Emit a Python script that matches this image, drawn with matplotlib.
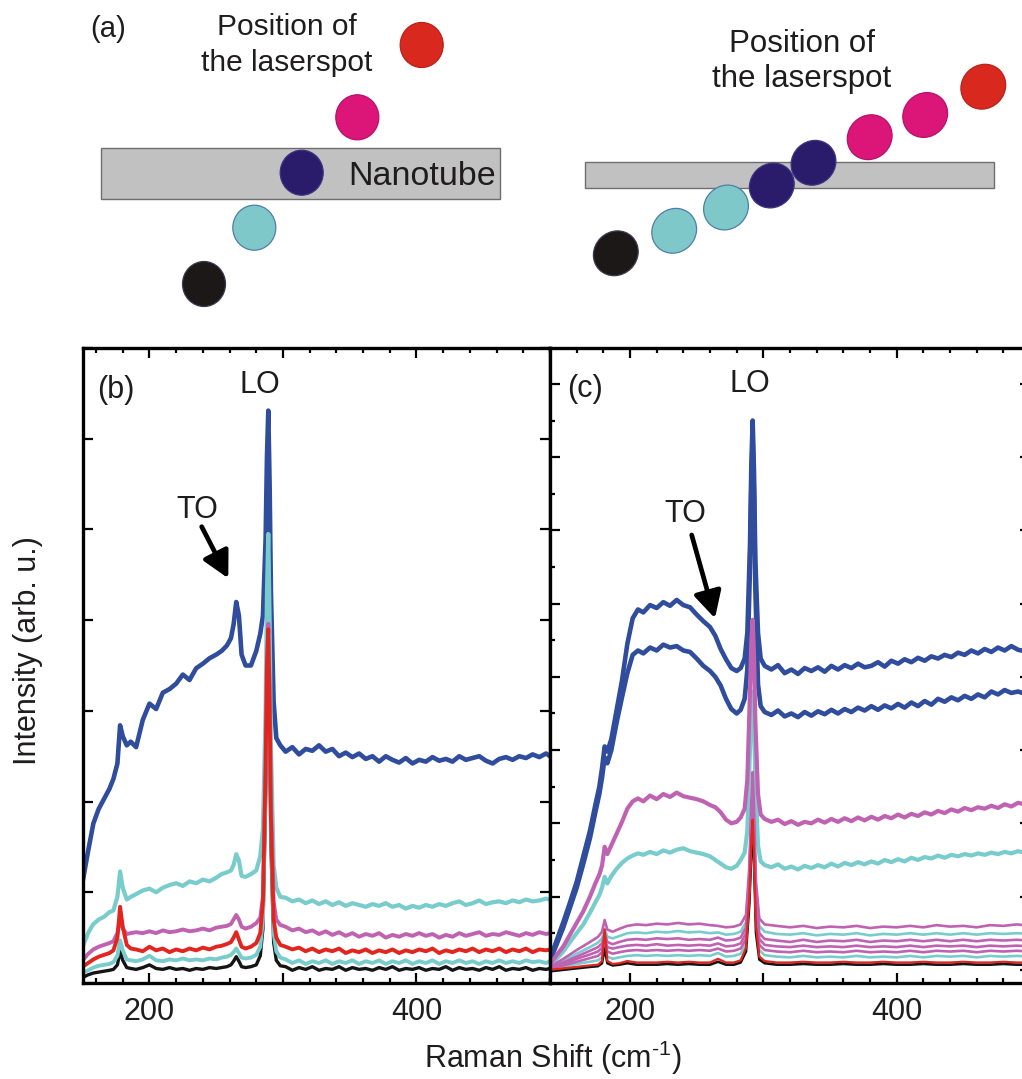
import matplotlib
matplotlib.use("Agg")
import matplotlib.pyplot as plt
from matplotlib.patches import Ellipse, Rectangle
from matplotlib.ticker import FixedLocator, MultipleLocator, FuncFormatter, NullFormatter

plt.rcParams['font.family'] = ['Liberation Sans', 'DejaVu Sans']
plt.rcParams['mathtext.fontset'] = 'custom'
plt.rcParams['mathtext.rm'] = 'Liberation Sans'
plt.rcParams['mathtext.it'] = 'Liberation Sans:italic'
plt.rcParams['mathtext.bf'] = 'Liberation Sans:bold'

# ---------------------------------------------------------------- panel (b)
# Raman shift grid (cm^-1) for the spectra of panel (b)
b_shift = [150, 154, 158, 162, 166, 170, 173, 176, 178, 180,
           183, 186, 190, 195, 200, 205, 210, 215, 220, 225,
           230, 235, 240, 245, 250, 254, 258, 261, 263, 265,
           267, 269, 272, 276, 280, 283, 285,
           287, 288, 289, 290, 291, 293, 295, 298,
           302, 307, 312, 317, 322, 327, 332, 337, 342, 347,
           352, 357, 362, 367, 372, 377, 382, 387, 392, 397,
           402, 407, 412, 417, 422, 427, 432, 437, 442, 447,
           452, 457, 462, 467, 472, 477, 482, 487, 492, 497,
           500]

b_blue = [1.12, 1.45, 1.76, 1.92, 2.03, 2.14, 2.25, 2.42, 2.84, 2.72,
          2.62, 2.66, 2.6, 2.9, 3.08, 3.02, 3.2, 3.24, 3.3, 3.4,
          3.34, 3.47, 3.52, 3.58, 3.62, 3.66, 3.72, 3.8, 3.95, 4.2,
          4.05, 3.62, 3.5, 3.5, 3.66, 3.85, 4.05,
          4.9, 5.8, 6.31, 5.5, 4.3, 3.1, 2.7, 2.62,
          2.55, 2.6, 2.52, 2.58, 2.56, 2.62, 2.55, 2.58, 2.5, 2.54,
          2.49, 2.53, 2.47, 2.5, 2.44, 2.5, 2.46, 2.43, 2.48, 2.42,
          2.46, 2.44, 2.49, 2.45, 2.47, 2.44, 2.5, 2.46, 2.48, 2.5,
          2.45, 2.42, 2.47, 2.49, 2.46, 2.5, 2.48, 2.52, 2.49, 2.53,
          2.5]

b_cyan_hi = [0.4, 0.55, 0.65, 0.7, 0.73, 0.78, 0.8, 0.95, 1.23, 1.05,
             0.92, 0.95, 0.98, 1.02, 1.04, 1.0, 1.05, 1.08, 1.1, 1.07,
             1.12, 1.1, 1.14, 1.12, 1.16, 1.2, 1.22, 1.24, 1.3, 1.42,
             1.35, 1.18, 1.17, 1.2, 1.24, 1.4, 1.7,
             3.0, 4.3, 4.95, 4.0, 2.6, 1.3, 1.05, 0.95,
             0.94, 0.9, 0.92, 0.88, 0.91, 0.87, 0.9, 0.86, 0.89, 0.85,
             0.88, 0.86, 0.84, 0.87, 0.85, 0.88, 0.84, 0.86, 0.82, 0.85,
             0.83, 0.86, 0.84, 0.87, 0.85, 0.88, 0.9, 0.86, 0.88, 0.91,
             0.87, 0.89, 0.9, 0.88, 0.91, 0.89, 0.92, 0.9, 0.91, 0.93,
             0.92]

b_magenta = [0.25, 0.32, 0.37, 0.4, 0.42, 0.44, 0.46, 0.55, 0.7, 0.6,
             0.54, 0.55, 0.56, 0.55, 0.57, 0.55, 0.58, 0.56, 0.57, 0.59,
             0.57, 0.58, 0.6, 0.58, 0.61, 0.62, 0.63, 0.65, 0.7, 0.75,
             0.7, 0.62, 0.6, 0.62, 0.66, 0.72, 0.95,
             2.3, 3.5, 3.96, 3.2, 2.0, 0.9, 0.7, 0.64,
             0.62, 0.58, 0.6, 0.56, 0.58, 0.54, 0.57, 0.53, 0.56, 0.52,
             0.55, 0.51, 0.54, 0.52, 0.55, 0.5, 0.53, 0.51, 0.54, 0.52,
             0.55, 0.52, 0.54, 0.5, 0.53, 0.51, 0.55, 0.52, 0.54, 0.56,
             0.52, 0.54, 0.53, 0.56, 0.54, 0.52, 0.55, 0.53, 0.56, 0.54,
             0.55]

b_red = [0.18, 0.22, 0.26, 0.29, 0.31, 0.33, 0.36, 0.5, 0.84, 0.62,
         0.42, 0.38, 0.37, 0.35, 0.4, 0.36, 0.38, 0.34, 0.37, 0.35,
         0.38, 0.36, 0.39, 0.37, 0.4, 0.41, 0.43, 0.45, 0.5, 0.56,
         0.48, 0.4, 0.38, 0.4, 0.44, 0.55, 0.9,
         2.4, 3.5, 3.9, 3.1, 1.8, 0.7, 0.5, 0.42,
         0.4, 0.37, 0.39, 0.35, 0.38, 0.34, 0.37, 0.35, 0.38, 0.33,
         0.36, 0.34, 0.37, 0.33, 0.36, 0.34, 0.37, 0.33, 0.36, 0.34,
         0.37, 0.35, 0.38, 0.33, 0.36, 0.34, 0.37, 0.35, 0.38, 0.34,
         0.37, 0.35, 0.38, 0.34, 0.37, 0.35, 0.38, 0.34, 0.37, 0.36,
         0.37]

b_cyan_lo = [0.11, 0.14, 0.17, 0.19, 0.2, 0.21, 0.23, 0.3, 0.47, 0.36,
             0.26, 0.25, 0.24, 0.26, 0.3, 0.25, 0.24, 0.26, 0.25, 0.27,
             0.25, 0.26, 0.25, 0.27, 0.26, 0.28, 0.29, 0.31, 0.34, 0.38,
             0.33, 0.28, 0.27, 0.28, 0.31, 0.4, 0.7,
             2.2, 3.4, 3.85, 3.0, 1.7, 0.55, 0.35, 0.28,
             0.26, 0.22, 0.25, 0.21, 0.24, 0.22, 0.25, 0.21, 0.24, 0.22,
             0.25, 0.21, 0.24, 0.22, 0.25, 0.21, 0.24, 0.22, 0.25, 0.21,
             0.24, 0.22, 0.25, 0.21, 0.24, 0.22, 0.25, 0.22, 0.24, 0.21,
             0.24, 0.22, 0.25, 0.22, 0.24, 0.22, 0.25, 0.23, 0.24, 0.22,
             0.24]

b_black = [0.06, 0.09, 0.11, 0.12, 0.13, 0.14, 0.15, 0.2, 0.35, 0.25,
           0.17, 0.16, 0.15, 0.17, 0.2, 0.16, 0.15, 0.17, 0.15, 0.16,
           0.14, 0.16, 0.15, 0.17, 0.16, 0.17, 0.18, 0.2, 0.24, 0.29,
           0.24, 0.18, 0.17, 0.18, 0.2, 0.3, 0.6,
           2.0, 3.2, 3.6, 2.8, 1.5, 0.45, 0.25, 0.19,
           0.18, 0.14, 0.17, 0.15, 0.18, 0.14, 0.16, 0.15, 0.18, 0.14,
           0.17, 0.15, 0.16, 0.14, 0.17, 0.15, 0.18, 0.14, 0.16, 0.15,
           0.17, 0.14, 0.16, 0.15, 0.18, 0.14, 0.17, 0.15, 0.16, 0.14,
           0.17, 0.15, 0.18, 0.14, 0.16, 0.15, 0.17, 0.14, 0.16, 0.15,
           0.16]

# ---------------------------------------------------------------- panel (c)
c_shift = [140, 145, 150, 155, 160, 165, 170, 174, 177, 179,
           181, 183, 186, 190, 194, 198, 202, 206, 210, 215,
           220, 225, 230, 235, 240, 245, 250, 255, 260, 264,
           268, 272, 276, 280, 283, 286, 288,
           290, 291, 292, 293, 294, 296, 298,
           301, 306, 311, 316, 321, 326, 331, 336, 341, 346,
           351, 356, 361, 366, 371, 376, 381, 386, 391, 396,
           401, 406, 411, 416, 421, 426, 431, 436, 441, 446,
           451, 456, 461, 466, 471, 476, 481, 486, 491, 496,
           500]

c_blue_1 = [0.15, 0.4, 0.65, 0.92, 1.2, 1.55, 1.9, 2.25, 2.5, 2.75,
            3.05, 2.98, 3.15, 3.55, 3.95, 4.45, 4.8, 4.92, 4.88, 4.98,
            4.94, 5.02, 4.97, 5.05, 4.98, 4.95, 4.85, 4.76, 4.68, 4.56,
            4.38, 4.24, 4.12, 4.08, 4.12, 4.25, 4.6,
            5.8, 6.9, 7.5, 6.8, 5.6, 4.6, 4.25,
            4.15, 4.1, 4.16, 4.05, 4.1, 4.04, 4.12, 4.08, 4.13, 4.07,
            4.15, 4.1, 4.16, 4.12, 4.18, 4.13, 4.15, 4.2, 4.14, 4.22,
            4.18, 4.24, 4.2, 4.26, 4.22, 4.28, 4.25, 4.3, 4.27, 4.33,
            4.3, 4.36, 4.32, 4.38, 4.34, 4.4, 4.36, 4.42, 4.37, 4.35,
            4.38]

c_blue_2 = [0.12, 0.35, 0.58, 0.85, 1.12, 1.45, 1.8, 2.15, 2.4, 2.62,
            2.9, 2.82, 3.0, 3.38, 3.72, 4.05, 4.3, 4.36, 4.32, 4.4,
            4.36, 4.44, 4.4, 4.42, 4.36, 4.34, 4.25, 4.15, 4.08, 4.0,
            3.88, 3.7, 3.56, 3.5, 3.55, 3.7, 4.1,
            5.5, 6.6, 7.25, 6.5, 5.2, 3.9, 3.6,
            3.52, 3.48, 3.54, 3.46, 3.5, 3.45, 3.52, 3.47, 3.53, 3.49,
            3.55, 3.5, 3.56, 3.52, 3.58, 3.54, 3.6, 3.55, 3.61, 3.57,
            3.63, 3.58, 3.65, 3.6, 3.67, 3.62, 3.7, 3.66, 3.72, 3.68,
            3.74, 3.7, 3.76, 3.72, 3.8, 3.76, 3.82, 3.78, 3.8, 3.77,
            3.79]

c_magenta_1 = [0.08, 0.2, 0.32, 0.48, 0.64, 0.8, 1.0, 1.18, 1.3, 1.42,
               1.68, 1.58, 1.7, 1.86, 2.02, 2.2, 2.3, 2.34, 2.3, 2.38,
               2.33, 2.4, 2.36, 2.42, 2.37, 2.35, 2.33, 2.3, 2.25, 2.22,
               2.15, 2.05, 2.0, 2.02, 2.08, 2.2, 2.6,
               3.8, 4.5, 4.78, 4.3, 3.4, 2.4, 2.12,
               2.06, 2.02, 2.05, 1.99, 2.03, 1.98, 2.02, 2.0, 2.05, 2.01,
               2.06, 2.02, 2.07, 2.03, 2.08, 2.04, 2.09, 2.05, 2.1, 2.07,
               2.12, 2.08, 2.13, 2.1, 2.15, 2.12, 2.17, 2.14, 2.19, 2.16,
               2.21, 2.18, 2.22, 2.2, 2.24, 2.21, 2.26, 2.23, 2.28, 2.26,
               2.27]

c_cyan_1 = [0.06, 0.15, 0.25, 0.38, 0.5, 0.62, 0.78, 0.92, 1.02, 1.12,
            1.27, 1.18, 1.28, 1.38, 1.46, 1.52, 1.56, 1.59, 1.57, 1.61,
            1.58, 1.63, 1.6, 1.64, 1.66, 1.62, 1.6, 1.58, 1.55, 1.5,
            1.45, 1.4, 1.38, 1.42, 1.5, 1.6, 1.9,
            3.0, 3.6, 3.8, 3.4, 2.6, 1.7, 1.48,
            1.43, 1.4, 1.44, 1.38, 1.41, 1.37, 1.42, 1.39, 1.43, 1.4,
            1.45, 1.41, 1.46, 1.43, 1.47, 1.44, 1.48, 1.45, 1.5, 1.47,
            1.51, 1.48, 1.53, 1.5, 1.54, 1.52, 1.56, 1.53, 1.57, 1.55,
            1.58, 1.56, 1.59, 1.57, 1.6, 1.58, 1.61, 1.59, 1.62, 1.6,
            1.61]

# weaker spectra of panel (c) on a coarser shift grid
c_shift_weak = [140, 150, 160, 170, 176, 179, 181, 183, 187, 192,
                198, 205, 212, 220, 228, 236, 244, 252, 260, 266,
                272, 278, 283, 287, 289.5, 291, 292, 293, 294.5, 297,
                301, 310, 320, 330, 340, 350, 360, 370, 380, 390,
                400, 410, 420, 430, 440, 450, 460, 470, 480, 490,
                500]

c_magenta_2 = [0.04, 0.15, 0.27, 0.38, 0.45, 0.52, 0.68, 0.55, 0.52, 0.56,
               0.6, 0.62, 0.61, 0.63, 0.62, 0.64, 0.62, 0.63, 0.61, 0.6,
               0.58, 0.59, 0.62, 0.75, 1.4, 2.3, 2.7, 2.2, 1.2, 0.7,
               0.62, 0.6, 0.58, 0.6, 0.57, 0.59, 0.58, 0.6, 0.57, 0.59,
               0.58, 0.6, 0.58, 0.61, 0.59, 0.6, 0.58, 0.61, 0.6, 0.62,
               0.6]
c_cyan_2 = [0.03, 0.12, 0.22, 0.31, 0.37, 0.43, 0.56, 0.45, 0.43, 0.46,
            0.5, 0.51, 0.5, 0.52, 0.51, 0.53, 0.51, 0.52, 0.5, 0.51,
            0.48, 0.49, 0.52, 0.65, 1.3, 2.2, 2.55, 2.1, 1.1, 0.6,
            0.52, 0.49, 0.48, 0.5, 0.47, 0.49, 0.48, 0.5, 0.47, 0.49,
            0.48, 0.5, 0.48, 0.5, 0.48, 0.5, 0.48, 0.5, 0.49, 0.5,
            0.49]
c_magenta_3 = [0.03, 0.1, 0.18, 0.26, 0.31, 0.36, 0.5, 0.38, 0.35, 0.38,
               0.41, 0.42, 0.41, 0.43, 0.42, 0.43, 0.41, 0.42, 0.41, 0.44,
               0.4, 0.41, 0.44, 0.58, 1.25, 2.1, 2.45, 2.0, 1.0, 0.5,
               0.42, 0.4, 0.38, 0.41, 0.38, 0.4, 0.39, 0.41, 0.38, 0.4,
               0.39, 0.41, 0.39, 0.41, 0.39, 0.41, 0.39, 0.41, 0.4, 0.41,
               0.4]
c_magenta_4 = [0.02, 0.08, 0.15, 0.21, 0.25, 0.3, 0.44, 0.31, 0.29, 0.31,
               0.33, 0.34, 0.33, 0.35, 0.33, 0.34, 0.33, 0.34, 0.33, 0.36,
               0.32, 0.33, 0.36, 0.5, 1.2, 2.0, 2.35, 1.9, 0.9, 0.42,
               0.34, 0.32, 0.31, 0.33, 0.31, 0.32, 0.31, 0.33, 0.31, 0.32,
               0.31, 0.33, 0.31, 0.33, 0.32, 0.33, 0.31, 0.33, 0.32, 0.33,
               0.32]
c_magenta_5 = [0.02, 0.06, 0.11, 0.16, 0.19, 0.24, 0.4, 0.25, 0.22, 0.24,
               0.26, 0.27, 0.26, 0.27, 0.26, 0.27, 0.26, 0.27, 0.26, 0.29,
               0.25, 0.26, 0.29, 0.42, 1.1, 1.9, 2.25, 1.8, 0.8, 0.34,
               0.27, 0.25, 0.24, 0.26, 0.24, 0.25, 0.24, 0.26, 0.24, 0.25,
               0.24, 0.26, 0.24, 0.26, 0.25, 0.26, 0.24, 0.26, 0.25, 0.26,
               0.25]
c_cyan_3 = [0.01, 0.04, 0.08, 0.11, 0.13, 0.17, 0.34, 0.18, 0.15, 0.17,
            0.19, 0.2, 0.19, 0.2, 0.19, 0.2, 0.19, 0.2, 0.19, 0.23,
            0.18, 0.19, 0.22, 0.35, 1.0, 1.8, 2.15, 1.7, 0.7, 0.27,
            0.2, 0.18, 0.17, 0.19, 0.17, 0.18, 0.17, 0.19, 0.17, 0.18,
            0.17, 0.19, 0.17, 0.19, 0.18, 0.19, 0.17, 0.19, 0.18, 0.19,
            0.18]
c_red = [0.0, 0.02, 0.04, 0.06, 0.07, 0.12, 0.55, 0.12, 0.08, 0.09,
         0.12, 0.1, 0.1, 0.1, 0.11, 0.1, 0.11, 0.1, 0.1, 0.15,
         0.1, 0.1, 0.13, 0.3, 1.0, 1.8, 2.05, 1.6, 0.6, 0.18,
         0.12, 0.1, 0.1, 0.11, 0.1, 0.1, 0.11, 0.1, 0.1, 0.11,
         0.1, 0.1, 0.11, 0.1, 0.1, 0.11, 0.1, 0.1, 0.11, 0.1,
         0.1]
c_black = [-0.02, 0.0, 0.02, 0.04, 0.05, 0.09, 0.3, 0.09, 0.06, 0.07,
           0.09, 0.07, 0.07, 0.07, 0.08, 0.07, 0.08, 0.07, 0.07, 0.11,
           0.07, 0.07, 0.1, 0.25, 0.9, 1.6, 1.9, 1.5, 0.5, 0.14,
           0.09, 0.07, 0.07, 0.08, 0.07, 0.07, 0.08, 0.07, 0.07, 0.08,
           0.07, 0.07, 0.08, 0.07, 0.07, 0.08, 0.07, 0.07, 0.08, 0.07,
           0.07]

x_tick_labels = {200: "200", 400: "400"}

# ---------------------------------------------------------------- colours
BLUE = "#2f4c9d"
CYAN = "#79cccc"
MAGENTA = "#c062b2"
RED = "#e2261f"
BLACK = "#141414"
INK = "#1e1c1c"

SPOT_BLACK = "#1c1818"
SPOT_CYAN = "#7ec8ca"
SPOT_NAVY = "#2b1b6b"
SPOT_PINK = "#dc1679"
SPOT_RED = "#d9281e"

W, H = 1022, 1079
fig = plt.figure(figsize=(W / 100, H / 100), dpi=100)


def box(x0, y0, x1, y1):
    """Pixel box (top-left origin) -> figure-fraction rectangle."""
    return [x0 / W, 1 - y1 / H, (x1 - x0) / W, (y1 - y0) / H]


ax_b = fig.add_axes(box(82.7, 348, 550, 983))
ax_c = fig.add_axes(box(550, 348, 1030, 983))


def style_axes(ax, xlim, ylim, y_minor):
    ax.set_xlim(*xlim)
    ax.set_ylim(*ylim)
    ax.xaxis.set_major_locator(FixedLocator([200, 300, 400]))
    ax.xaxis.set_minor_locator(MultipleLocator(20))
    ax.xaxis.set_major_formatter(
        FuncFormatter(lambda v, p: x_tick_labels.get(int(round(v)), "")))
    ax.yaxis.set_major_locator(MultipleLocator(1))
    ax.yaxis.set_major_formatter(NullFormatter())
    if y_minor:
        ax.yaxis.set_minor_locator(MultipleLocator(0.5))
    else:
        ax.yaxis.set_minor_locator(FixedLocator([]))
    ax.tick_params(which="both", direction="in", top=True, right=True,
                   width=1.6, color="black", labelsize=22, pad=10,
                   labelcolor=INK)
    ax.tick_params(which="major", length=7.2)
    ax.tick_params(which="minor", length=3.6)
    ax.tick_params(axis="y", which="minor", right=False)
    for s in ax.spines.values():
        s.set_linewidth(2.4)
        s.set_color("black")


style_axes(ax_b, (150, 500), (0, 7), False)
style_axes(ax_c, (140, 500), (-0.18, 8.49), True)

kw = dict(solid_joinstyle="round", solid_capstyle="butt")
ax_b.plot(b_shift, b_blue, color=BLUE, lw=3.3, **kw)
ax_b.plot(b_shift, b_cyan_hi, color=CYAN, lw=3.0, **kw)
ax_b.plot(b_shift, b_magenta, color=MAGENTA, lw=2.8, **kw)
ax_b.plot(b_shift, b_black, color=BLACK, lw=2.4, **kw)
ax_b.plot(b_shift, b_cyan_lo, color=CYAN, lw=2.8, **kw)
ax_b.plot(b_shift, b_red, color=RED, lw=2.8, **kw)

ax_c.plot(c_shift, c_blue_1, color=BLUE, lw=3.3, **kw)
ax_c.plot(c_shift, c_blue_2, color=BLUE, lw=3.3, **kw)
ax_c.plot(c_shift, c_cyan_1, color=CYAN, lw=3.0, **kw)
for ys, col in [(c_cyan_2, CYAN), (c_cyan_3, CYAN), (c_black, BLACK),
                (c_magenta_5, MAGENTA), (c_magenta_4, MAGENTA),
                (c_magenta_3, MAGENTA), (c_magenta_2, MAGENTA)]:
    ax_c.plot(c_shift_weak, ys, color=col, lw=1.9, **kw)
ax_c.plot(c_shift, c_magenta_1, color=MAGENTA, lw=3.0, **kw)
ax_c.plot(c_shift_weak, c_red, color=RED, lw=1.6, **kw)

# ---------------------------------------------------------------- overlay in pixel units
pix = fig.add_axes([0, 0, 1, 1], zorder=5)
pix.set_xlim(0, W)
pix.set_ylim(H, 0)
pix.axis("off")

# schematic (a): nanotube bars and laser-spot positions
pix.add_patch(Rectangle((100.7, 147.7), 399.3, 51.3, facecolor="#c1c1c1",
                        edgecolor="#6e6e6e", lw=1.0, zorder=1))
pix.add_patch(Rectangle((585, 161.7), 409.3, 26.6, facecolor="#c1c1c1",
                        edgecolor="#6e6e6e", lw=1.0, zorder=1))

left_spots = [(204, 284, SPOT_BLACK), (254.3, 227.7, SPOT_CYAN),
              (301.7, 172.7, SPOT_NAVY), (357.3, 117.3, SPOT_PINK),
              (421.7, 45, SPOT_RED)]
right_spots = [(615.8, 253.3, SPOT_BLACK), (674.2, 230.8, SPOT_CYAN),
               (726, 207.5, SPOT_CYAN), (771.8, 185.5, SPOT_NAVY),
               (813.5, 162.8, SPOT_NAVY), (869.7, 137.2, SPOT_PINK),
               (925.2, 115, SPOT_PINK), (983.3, 86.7, SPOT_RED)]
edge_of = {SPOT_BLACK: "#3a3a52", SPOT_CYAN: "#4d7fa8", SPOT_NAVY: "#3a3480",
           SPOT_PINK: "#b8106a", SPOT_RED: "#b8231c"}
for x, y, c in left_spots:
    pix.add_patch(Ellipse((x, y), 43, 45, facecolor=c, edgecolor=edge_of[c],
                          lw=0.9, zorder=2))
for x, y, c in right_spots:
    pix.add_patch(Ellipse((x, y), 46.5, 43, angle=-45, facecolor=c,
                          edgecolor=edge_of[c], lw=0.9, zorder=2))

tkw = dict(color=INK, va="baseline", zorder=3)
pix.text(90, 36.7, "(a)", fontsize=21, ha="left", **tkw)
pix.text(287, 35, "Position of", fontsize=21.5, ha="center", **tkw)
pix.text(287, 71, "the laserspot", fontsize=21.5, ha="center", **tkw)
pix.text(348, 185, "Nanotube", fontsize=24.5, ha="left", **tkw)
pix.text(801.7, 51.7, "Position of", fontsize=22.5, ha="center", **tkw)
pix.text(801.7, 87.3, "the laserspot", fontsize=22.5, ha="center", **tkw)

# panel annotations
pix.text(96.7, 398.3, "(b)", fontsize=22, ha="left", **tkw)
pix.text(260, 393.3, "LO", fontsize=22, ha="center", **tkw)
pix.text(197.5, 518.3, "TO", fontsize=22, ha="center", **tkw)
pix.text(566.7, 396.7, "(c)", fontsize=22, ha="left", **tkw)
pix.text(750, 391.7, "LO", fontsize=22, ha="center", **tkw)
pix.text(685, 521.7, "TO", fontsize=22, ha="center", **tkw)

akw = dict(arrowstyle="-|>,head_length=0.8,head_width=0.42", lw=3.4,
           color="black", mutation_scale=20, shrinkA=0, shrinkB=0)
pix.annotate("", xy=(228.3, 578.3), xytext=(201.7, 526.7), arrowprops=akw)
pix.annotate("", xy=(715, 618.3), xytext=(691.7, 535), arrowprops=akw)

# axis titles
fig.text(552.5 / W, 1 - 1068 / H, r"Raman Shift (cm$^{\text{-1}}$)",
         fontsize=22, ha="center", va="baseline", color=INK)
fig.text(28 / W, 1 - 651 / H, "Intensity (arb. u.)", fontsize=22,
         rotation=90, ha="center", va="center", color=INK)

fig.savefig("out.png", dpi=100)
